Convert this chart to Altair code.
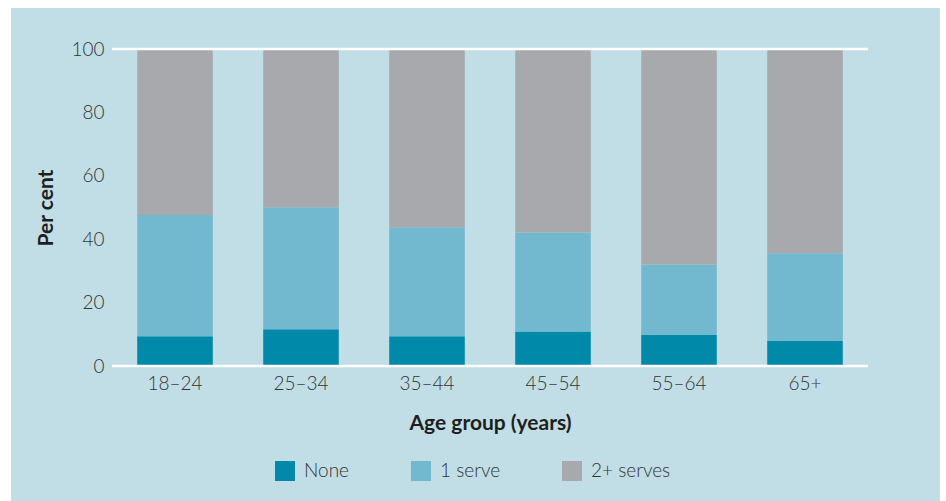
import altair as alt
import pandas as pd

# Share of adults by serves eaten per day, per age group (per cent)
age_groups = ["18–24", "25–34", "35–44", "45–54", "55–64", "65+"]
series = ["None", "1 serve", "2+ serves"]
none_pct = [9.4, 11.6, 9.4, 10.9, 9.8, 7.9]
one_serve_pct = [38.2, 38.5, 34.4, 31.2, 22.2, 27.7]
two_plus_pct = [52.4, 49.9, 56.2, 57.9, 68.0, 64.4]
y_ticks = [0, 20, 40, 60, 80, 100]
frame_lines = [0, 100]

colors = ["#0089a8", "#72b9cf", "#a7a9ad"]
panel_bg = "#c1dee6"
font = "Lato"

rows = []
for i, age in enumerate(age_groups):
    for k, (name, vals) in enumerate(zip(series, [none_pct, one_serve_pct, two_plus_pct])):
        rows.append({"age": age, "series": name, "order": k, "value": vals[i]})
df = pd.DataFrame(rows)

W, H = 756, 317
one_row = pd.DataFrame({"p": [0]})

# thin white margins framing the light-blue panel (left, top, right)
def strip(x0, x1, y0, y1):
    return alt.Chart(one_row).mark_rect(color="white").encode(
        x=alt.value(x0), x2=alt.value(x1), y=alt.value(y0), y2=alt.value(y1)
    )

margins = [
    strip(-113, -101, -50, 460),
    strip(-113, 836, -50, -41),
    strip(828, 836, -50, 460),
]

bars = alt.Chart(df).mark_bar().encode(
    x=alt.X(
        "age:N",
        sort=age_groups,
        scale=alt.Scale(paddingInner=0.4, paddingOuter=0.2),
        axis=alt.Axis(
            title="Age group (years)",
            labelAngle=0,
            ticks=False,
            domain=False,
            labelPadding=8,
            titleY=63,
            titleBaseline="alphabetic",
        ),
    ),
    y=alt.Y(
        "value:Q",
        stack="zero",
        scale=alt.Scale(domain=[0, 100], nice=False),
        axis=alt.Axis(
            title="Per cent",
            values=y_ticks,
            grid=False,
            ticks=False,
            domain=False,
            labelPadding=8,
            titleX=-66,
            titleBaseline="middle",
        ),
    ),
    color=alt.Color(
        "series:N",
        sort=series,
        scale=alt.Scale(domain=series, range=colors),
        legend=alt.Legend(
            title=None,
            orient="none",
            direction="horizontal",
            legendX=163,
            legendY=412,
            symbolType="square",
            symbolSize=400,
            symbolStrokeWidth=0,
            symbolOpacity=1,
            labelOffset=9,
            columnPadding=61,
            padding=0,
        ),
    ),
    order=alt.Order("order:Q"),
)

rules = alt.Chart(pd.DataFrame({"v": frame_lines})).mark_rule(
    color="white", strokeWidth=2.5
).encode(y="v:Q")

chart = (
    alt.layer(bars, rules, *margins)
    .properties(
        width=W,
        height=H,
        autosize=alt.AutoSizeParams(type="none"),
        padding={"left": 112, "top": 49, "right": 78, "bottom": 135},
        background=panel_bg,
    )
    .configure_view(stroke=None, fill=None)
    .configure_axis(
        labelFont=font,
        labelFontSize=19,
        labelFontWeight=300,
        labelColor="#333333",
        titleFont=font,
        titleFontSize=21,
        titleFontWeight="bold",
        titleColor="#1e1e1e",
    )
    .configure_legend(
        labelFont=font,
        labelFontSize=19,
        labelFontWeight=300,
        labelColor="#333333",
    )
)

chart.save("out.html", embed_options={"renderer": "svg", "actions": False})
